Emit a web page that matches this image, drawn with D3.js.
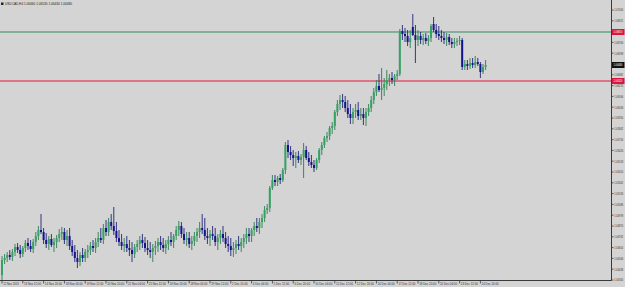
<!DOCTYPE html>
<html><head><meta charset="utf-8">
<script src="https://cdn.jsdelivr.net/npm/d3@7"></script>
<style>html,body{margin:0;padding:0;background:#d4d4d4;overflow:hidden}svg{display:block}</style>
</head><body>
<script>
const symbol = "USDCAD,H4";
const opens = [1.0438,1.0453,1.0455,1.0458,1.0456,1.0461,1.0466,1.0463,1.0459,1.0465,
1.0470,1.0467,1.0464,1.0471,1.0477,1.0483,1.0481,1.0473,1.0469,1.0474,
1.0468,1.0471,1.0475,1.0479,1.0481,1.0473,1.0477,1.0467,1.0461,1.0455,
1.0451,1.0458,1.0455,1.0461,1.0463,1.0467,1.0465,1.0471,1.0475,1.0473,
1.0485,1.0481,1.0491,1.0487,1.0482,1.0475,1.0471,1.0467,1.0469,1.0465,
1.0463,1.0459,1.0466,1.0469,1.0473,1.0470,1.0465,1.0463,1.0461,1.0465,
1.0467,1.0471,1.0468,1.0465,1.0469,1.0473,1.0471,1.0477,1.0483,1.0487,
1.0479,1.0473,1.0475,1.0469,1.0472,1.0477,1.0481,1.0485,1.0483,1.0477,
1.0475,1.0479,1.0477,1.0471,1.0475,1.0479,1.0475,1.0469,1.0467,1.0463,
1.0465,1.0469,1.0467,1.0471,1.0475,1.0479,1.0477,1.0483,1.0487,1.0485,
1.0491,1.0495,1.0503,1.0505,1.0525,1.0533,1.0531,1.0535,1.0533,1.0543,
1.0568,1.0561,1.0558,1.0555,1.0557,1.0553,1.0556,1.0563,1.0555,1.0551,
1.0548,1.0545,1.0553,1.0563,1.0568,1.0575,1.0577,1.0585,1.0587,1.0601,
1.0609,1.0613,1.0611,1.0605,1.0599,1.0595,1.0601,1.0603,1.0597,1.0599,
1.0595,1.0601,1.0605,1.0613,1.0621,1.0627,1.0623,1.0625,1.0629,1.0633,
1.0635,1.0633,1.0637,1.0639,1.0682,1.0679,1.0677,1.0671,1.0686,1.0678,
1.0673,1.0677,1.0673,1.0675,1.0672,1.0675,1.0689,1.0683,1.0679,1.0677,
1.0675,1.0673,1.0676,1.0671,1.0669,1.0671,1.0672,1.0673,1.0646,1.0649,
1.0647,1.0650,1.0648,1.0651,1.0649,1.0641,1.0646];
const highs = [1.0457,1.0459,1.0461,1.0463,1.0464,1.0469,1.0470,1.0468,1.0467,1.0473,
1.0475,1.0473,1.0474,1.0481,1.0487,1.0499,1.0485,1.0480,1.0477,1.0479,
1.0475,1.0478,1.0484,1.0486,1.0485,1.0483,1.0485,1.0473,1.0468,1.0463,
1.0461,1.0465,1.0464,1.0468,1.0471,1.0473,1.0475,1.0481,1.0485,1.0489,
1.0493,1.0495,1.0499,1.0506,1.0491,1.0483,1.0479,1.0475,1.0477,1.0473,
1.0471,1.0469,1.0473,1.0477,1.0479,1.0476,1.0473,1.0471,1.0469,1.0472,
1.0475,1.0477,1.0475,1.0473,1.0477,1.0481,1.0479,1.0487,1.0492,1.0491,
1.0485,1.0481,1.0481,1.0477,1.0481,1.0485,1.0491,1.0499,1.0495,1.0485,
1.0483,1.0487,1.0485,1.0479,1.0483,1.0487,1.0481,1.0477,1.0475,1.0471,
1.0473,1.0477,1.0475,1.0479,1.0485,1.0485,1.0485,1.0491,1.0495,1.0495,
1.0499,1.0507,1.0509,1.0527,1.0538,1.0538,1.0537,1.0539,1.0545,1.0571,
1.0573,1.0567,1.0563,1.0561,1.0562,1.0559,1.0570,1.0567,1.0561,1.0558,
1.0553,1.0555,1.0565,1.0571,1.0577,1.0581,1.0587,1.0591,1.0603,1.0613,
1.0618,1.0619,1.0617,1.0613,1.0609,1.0605,1.0609,1.0611,1.0605,1.0605,
1.0605,1.0609,1.0617,1.0625,1.0633,1.0639,1.0645,1.0635,1.0643,1.0639,
1.0641,1.0639,1.0643,1.0684,1.0688,1.0685,1.0683,1.0683,1.0699,1.0688,
1.0683,1.0681,1.0679,1.0680,1.0678,1.0689,1.0696,1.0689,1.0687,1.0683,
1.0681,1.0680,1.0679,1.0675,1.0675,1.0675,1.0677,1.0675,1.0653,1.0653,
1.0655,1.0655,1.0657,1.0655,1.0651,1.0649,1.0653];
const lows = [1.0432,1.0449,1.0451,1.0453,1.0452,1.0457,1.0460,1.0455,1.0456,1.0461,
1.0463,1.0461,1.0460,1.0467,1.0473,1.0479,1.0469,1.0465,1.0463,1.0466,
1.0461,1.0465,1.0471,1.0473,1.0469,1.0467,1.0463,1.0457,1.0451,1.0445,
1.0447,1.0451,1.0451,1.0455,1.0458,1.0461,1.0460,1.0466,1.0470,1.0469,
1.0477,1.0477,1.0483,1.0478,1.0471,1.0467,1.0463,1.0461,1.0461,1.0457,
1.0451,1.0455,1.0461,1.0463,1.0465,1.0461,1.0458,1.0455,1.0451,1.0458,
1.0461,1.0463,1.0461,1.0459,1.0463,1.0467,1.0465,1.0473,1.0477,1.0475,
1.0469,1.0467,1.0465,1.0463,1.0467,1.0471,1.0475,1.0479,1.0473,1.0469,
1.0467,1.0473,1.0467,1.0463,1.0469,1.0471,1.0465,1.0461,1.0457,1.0456,
1.0459,1.0463,1.0461,1.0465,1.0469,1.0471,1.0471,1.0477,1.0481,1.0479,
1.0485,1.0491,1.0499,1.0501,1.0523,1.0527,1.0527,1.0529,1.0531,1.0539,
1.0555,1.0553,1.0547,1.0545,1.0550,1.0548,1.0535,1.0553,1.0547,1.0545,
1.0541,1.0543,1.0550,1.0558,1.0565,1.0571,1.0573,1.0579,1.0583,1.0597,
1.0603,1.0605,1.0601,1.0595,1.0589,1.0589,1.0595,1.0593,1.0593,1.0588,
1.0587,1.0597,1.0601,1.0609,1.0617,1.0621,1.0613,1.0617,1.0623,1.0627,
1.0629,1.0627,1.0633,1.0637,1.0673,1.0671,1.0667,1.0665,1.0677,1.0650,
1.0667,1.0669,1.0668,1.0669,1.0667,1.0671,1.0681,1.0675,1.0673,1.0671,
1.0669,1.0667,1.0668,1.0665,1.0665,1.0667,1.0668,1.0643,1.0643,1.0643,
1.0644,1.0645,1.0645,1.0647,1.0635,1.0639,1.0643];
const closes = [1.0453,1.0455,1.0458,1.0456,1.0461,1.0466,1.0463,1.0459,1.0465,1.0470,
1.0467,1.0464,1.0471,1.0477,1.0483,1.0481,1.0473,1.0469,1.0474,1.0468,
1.0471,1.0475,1.0479,1.0481,1.0473,1.0477,1.0467,1.0461,1.0455,1.0451,
1.0458,1.0455,1.0461,1.0463,1.0467,1.0465,1.0471,1.0475,1.0473,1.0485,
1.0481,1.0491,1.0487,1.0482,1.0475,1.0471,1.0467,1.0469,1.0465,1.0463,
1.0459,1.0466,1.0469,1.0473,1.0470,1.0465,1.0463,1.0461,1.0465,1.0467,
1.0471,1.0468,1.0465,1.0469,1.0473,1.0471,1.0477,1.0483,1.0487,1.0479,
1.0473,1.0475,1.0469,1.0472,1.0477,1.0481,1.0485,1.0483,1.0477,1.0475,
1.0479,1.0477,1.0471,1.0475,1.0479,1.0475,1.0469,1.0467,1.0463,1.0465,
1.0469,1.0467,1.0471,1.0475,1.0479,1.0477,1.0483,1.0487,1.0485,1.0491,
1.0495,1.0503,1.0505,1.0525,1.0533,1.0531,1.0535,1.0533,1.0543,1.0568,
1.0561,1.0558,1.0555,1.0557,1.0553,1.0556,1.0563,1.0555,1.0551,1.0548,
1.0545,1.0553,1.0563,1.0568,1.0575,1.0577,1.0585,1.0587,1.0601,1.0609,
1.0613,1.0611,1.0605,1.0599,1.0595,1.0601,1.0603,1.0597,1.0599,1.0595,
1.0601,1.0605,1.0613,1.0621,1.0627,1.0623,1.0625,1.0629,1.0633,1.0635,
1.0633,1.0637,1.0639,1.0682,1.0679,1.0677,1.0671,1.0675,1.0678,1.0673,
1.0677,1.0673,1.0675,1.0672,1.0675,1.0687,1.0683,1.0679,1.0677,1.0675,
1.0673,1.0676,1.0671,1.0669,1.0671,1.0672,1.0673,1.0646,1.0649,1.0647,
1.0650,1.0648,1.0651,1.0649,1.0641,1.0646,1.0648];
const xTickLabels = ["12 Nov 2013","13 Nov 12:00","14 Nov 20:00","18 Nov 04:00","19 Nov 12:00","20 Nov 20:00","22 Nov 04:00","25 Nov 12:00","26 Nov 20:00","28 Nov 04:00","29 Nov 12:00","2 Dec 20:00","4 Dec 04:00","5 Dec 12:00","6 Dec 20:00","10 Dec 04:00","11 Dec 12:00","12 Dec 20:00","16 Dec 04:00","17 Dec 12:00","18 Dec 20:00","20 Dec 04:00","23 Dec 12:00","24 Dec 20:00"];
const xTickBars = [0,8,16,24,32,40,48,56,64,72,80,88,96,104,112,120,128,136,144,152,160,168,176,184];
const yTicks = [1.07030,1.06922,1.06814,1.06706,1.06598,1.06490,1.06382,1.06274,1.06166,1.06058,1.05950,1.05842,1.05734,1.05626,1.05518,1.05410,1.05302,1.05194,1.05086,1.04978,1.04870,1.04762,1.04654,1.04546,1.04438,1.04330];
const levelHigh = 1.0681;
const levelLow = 1.0632;

const W = 625, H = 287, plotR = 611, plotB = 280;
const svg = d3.select("body").append("svg").attr("width", W).attr("height", H);
svg.append("rect").attr("width", W).attr("height", H).attr("fill", "#d4d4d4");

const x = d3.scaleLinear().domain([0, opens.length - 1]).range([2, 2 + (opens.length - 1) * 2.6]);
const y = d3.scaleLinear().domain([1.0433, 1.0713]).range([plotB, 0]);
const font = "'Liberation Sans', Arial, sans-serif";

// horizontal levels
svg.append("line").attr("x1", 0).attr("x2", plotR).attr("y1", y(levelHigh)).attr("y2", y(levelHigh))
  .attr("stroke", "#2f8f5f").attr("stroke-width", 1.2);
svg.append("line").attr("x1", 0).attr("x2", plotR).attr("y1", y(levelLow)).attr("y2", y(levelLow))
  .attr("stroke", "#e2536f").attr("stroke-width", 1.4);

// candles
const bars = d3.range(opens.length);
const g = svg.append("g");
g.selectAll("line.wick").data(bars).join("line").attr("class", "wick")
  .attr("x1", i => x(i)).attr("x2", i => x(i))
  .attr("y1", i => y(highs[i])).attr("y2", i => y(lows[i]))
  .attr("stroke", i => closes[i] >= opens[i] ? "#2e7d50" : "#22227a").attr("stroke-width", 0.9);
g.selectAll("rect.body").data(bars).join("rect").attr("class", "body")
  .attr("x", i => x(i) - 1).attr("width", 2)
  .attr("y", i => y(Math.max(opens[i], closes[i])))
  .attr("height", i => Math.max(0.8, Math.abs(y(opens[i]) - y(closes[i]))))
  .attr("fill", i => closes[i] >= opens[i] ? "#34a263" : "#14148f");

// axes
svg.append("line").attr("x1", plotR + 0.5).attr("x2", plotR + 0.5).attr("y1", 0).attr("y2", plotB + 0.5)
  .attr("stroke", "#3a3a3a").attr("stroke-width", 1);
svg.append("line").attr("x1", 0).attr("x2", plotR + 0.5).attr("y1", plotB + 0.5).attr("y2", plotB + 0.5)
  .attr("stroke", "#3a3a3a").attr("stroke-width", 1);

const yt = svg.append("g");
yt.selectAll("line").data(yTicks).join("line")
  .attr("x1", plotR).attr("x2", plotR + 2.5).attr("y1", d => y(d)).attr("y2", d => y(d))
  .attr("stroke", "#3a3a3a").attr("stroke-width", 0.8);
yt.selectAll("text").data(yTicks).join("text")
  .attr("x", plotR + 3.3).attr("y", d => y(d) + 1.3)
  .attr("font-family", font).attr("font-size", 3.6).attr("fill", "#333")
  .attr("textLength", 8.8).attr("lengthAdjust", "spacingAndGlyphs")
  .text(d => d.toFixed(5));

const xt = svg.append("g");
xt.selectAll("line").data(xTickBars).join("line")
  .attr("x1", i => x(i)).attr("x2", i => x(i)).attr("y1", plotB).attr("y2", plotB + 3.5)
  .attr("stroke", "#3a3a3a").attr("stroke-width", 0.8);
xt.selectAll("text").data(xTickBars).join("text")
  .attr("x", i => x(i) + 1.2).attr("y", plotB + 5.3)
  .attr("font-family", font).attr("font-size", 3.8).attr("fill", "#333")
  .attr("textLength", (d, k) => xTickLabels[k].length * 1.42).attr("lengthAdjust", "spacingAndGlyphs")
  .text((d, k) => xTickLabels[k]);

// price labels
const last = opens.length - 1;
[[levelHigh, "#d8163f"], [closes[last], "#111"], [levelLow, "#d8163f"]].forEach(([v, c]) => {
  svg.append("rect").attr("x", plotR + 1).attr("y", y(v) - 3).attr("width", 12.5).attr("height", 6).attr("fill", c);
  svg.append("text").attr("x", plotR + 2.5).attr("y", y(v) + 1.3).attr("font-family", font)
    .attr("font-size", 3.6).attr("fill", "#fff").attr("textLength", 8.8).attr("lengthAdjust", "spacingAndGlyphs")
    .text(v.toFixed(5));
});

// title
svg.append("rect").attr("x", 1).attr("y", 2.5).attr("width", 2.5).attr("height", 2.5).attr("fill", "#222");
const titleText = `${symbol} ${opens[last].toFixed(5)} ${highs[last].toFixed(5)} ${lows[last].toFixed(5)} ${closes[last].toFixed(5)}`;
svg.append("text").attr("x", 5).attr("y", 5.2).attr("font-family", font).attr("font-size", 3.6).attr("fill", "#222")
  .attr("textLength", 67).attr("lengthAdjust", "spacingAndGlyphs")
  .text(titleText);
</script>
</body></html>
